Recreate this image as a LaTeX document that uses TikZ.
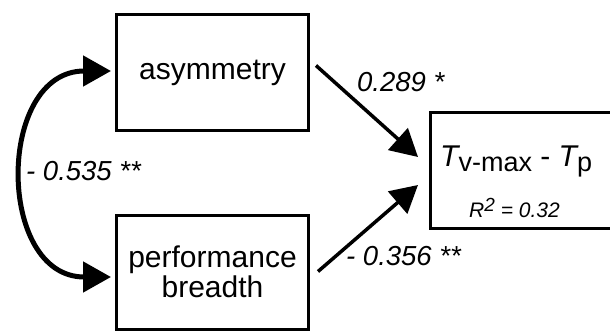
\documentclass[tikz,border=0pt]{standalone}
\usepackage{fontspec}
\setmainfont{Liberation Sans}
\usetikzlibrary{arrows.meta,calc}
\begin{document}
\begin{tikzpicture}[x=1pt,y=-1pt,
  varbox/.style={draw=black,line width=3pt,minimum width=192pt,inner sep=0pt,align=center,
    font=\fontsize{30}{30}\selectfont},
  pathlbl/.style={inner sep=0pt,anchor=base west,font=\fontsize{27.5}{27.5}\selectfont\itshape},
  patharrow/.style={line width=3.5pt,-{Triangle[length=27pt,width=29pt]}},
  corrarrow/.style={line width=5pt,{Triangle[length=28pt,width=30pt]}-{Triangle[length=28pt,width=30pt]}}
]
\useasboundingbox (0,0) rectangle (610,331);
\fill[white] (0,0) rectangle (610,331);
% boxes
\node[varbox,minimum height=116pt] (asym) at (212.5,73) {asymmetry};
\node[varbox,minimum height=114pt] (perf) at (212.5,272) {performance\\[0pt]breadth};
\coordinate (tl) at (430,113);
\coordinate (bl) at (430,228);
\draw[line width=3pt] (tl -| 625,0) -- (tl) -- (bl) -- (bl -| 625,0);
\node[inner sep=0pt,anchor=base west,font=\fontsize{30}{30}\selectfont] (target) at (440,167)
  {\itshape T\upshape\raisebox{-5pt}{\fontsize{27}{27}\selectfont v-max} - \itshape T\upshape\raisebox{-5pt}{\fontsize{27}{27}\selectfont p}};
\node[inner sep=0pt,anchor=base west,font=\fontsize{21}{21}\selectfont\itshape] (rsq) at (469,218)
  {R\raisebox{6pt}{\fontsize{19}{19}\selectfont 2} = 0.32};
% path arrows
\coordinate (a1) at ($(asym.north east)+(6,52)$);
\coordinate (t1) at ($(tl)+(-12,44)$);
\coordinate (a2) at ($(perf.north east)+(8,58)$);
\coordinate (t2) at ($(tl)+(-12,72)$);
\draw[patharrow] (a1) -- (t1);
\draw[patharrow] (a2) -- (t2);
% correlation
\coordinate (c1) at ($(asym.west)+(-4,-2)$);
\coordinate (c2) at ($(perf.west)+(-4,5)$);
\draw[corrarrow] (c1) .. controls (-4,71) and (-4,277) .. (c2);
% labels
\node[pathlbl] (l1) at (357,92) {0.289 *};
\node[pathlbl] (l2) at (346,265) {- 0.356 **};
\node[pathlbl] (l3) at (26,181) {- 0.535 **};
\end{tikzpicture}
\end{document}
